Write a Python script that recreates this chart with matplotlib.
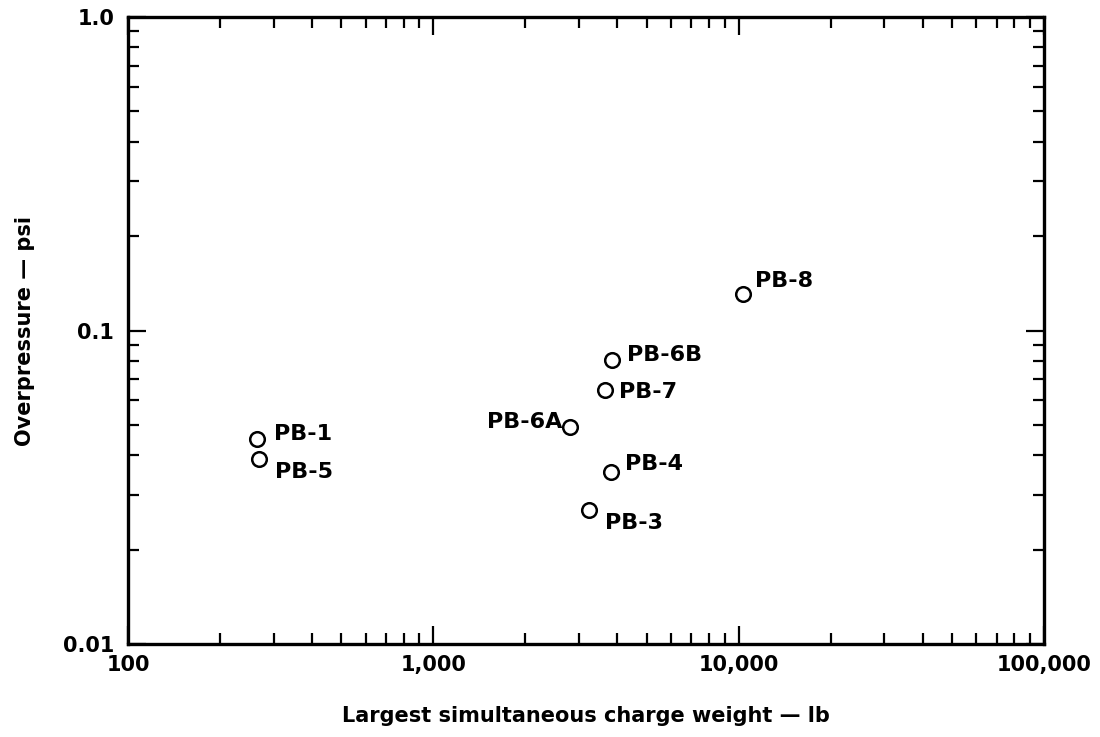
import numpy as np
import matplotlib
matplotlib.use("Agg")
from matplotlib import pyplot as plt
from matplotlib.ticker import FixedLocator, FixedFormatter, NullFormatter, LogLocator

# shot data: largest simultaneous charge (lb) vs measured overpressure (psi)
shots = ["PB-1", "PB-5", "PB-6A", "PB-6B", "PB-7", "PB-4", "PB-3", "PB-8"]
charge_lb = [265, 268, 2810, 3850, 3640, 3810, 3240, 10330]
overpressure_psi = [0.045, 0.0388, 0.0494, 0.0803, 0.0645, 0.0353, 0.0267, 0.131]
# label offsets (points) and alignment per shot
label_dx = [12, 12, -6, 11, 10, 10, 11, 9]
label_dy = [4, -9, 3, 4, -1, 6, -9, 9]
label_ha = ["left", "left", "right", "left", "left", "left", "left", "left"]

x_ticks = [100, 1000, 10000, 100000]
x_labels = ["100", "1,000", "10,000", "100,000"]
y_ticks = [0.01, 0.1, 1.0]
y_labels = ["0.01", "0.1", "1.0"]

plt.rcParams['font.family'] = ['DejaVu Sans']
plt.rcParams['font.weight'] = 'bold'

fig = plt.figure(figsize=(11, 7.37), dpi=100)
ax = fig.add_axes([0.1164, 0.126, 0.8327, 0.851])

ax.plot(charge_lb, overpressure_psi, linestyle='none', marker='o', markersize=10.5,
        markerfacecolor='white', markeredgecolor='black', markeredgewidth=1.8)

for name, x, y, dx, dy, ha in zip(shots, charge_lb, overpressure_psi, label_dx, label_dy, label_ha):
    ax.annotate(name, (x, y), xytext=(dx, dy), textcoords='offset points',
                ha=ha, va='center', fontsize=16, fontweight='bold')

ax.set_xscale('log')
ax.set_yscale('log')
ax.set_xlim(100, 100000)
ax.set_ylim(0.01, 1.0)

ax.xaxis.set_major_locator(FixedLocator(x_ticks))
ax.xaxis.set_major_formatter(FixedFormatter(x_labels))
ax.yaxis.set_major_locator(FixedLocator(y_ticks))
ax.yaxis.set_major_formatter(FixedFormatter(y_labels))
ax.xaxis.set_minor_locator(LogLocator(base=10, subs=np.arange(2, 10)))
ax.yaxis.set_minor_locator(LogLocator(base=10, subs=np.arange(2, 10)))
ax.xaxis.set_minor_formatter(NullFormatter())
ax.yaxis.set_minor_formatter(NullFormatter())

ax.tick_params(which='both', direction='in', top=True, right=True, width=1.6, color='black')
ax.tick_params(which='major', length=13, labelsize=15)
ax.tick_params(which='minor', length=8)
ax.tick_params(axis='x', which='major', pad=8)
ax.tick_params(axis='y', which='major', pad=10)

for sp in ax.spines.values():
    sp.set_linewidth(2.4)

ax.set_xlabel("Largest simultaneous charge weight — lb", fontsize=15, fontweight='bold', labelpad=22)
ax.set_ylabel("Overpressure — psi", fontsize=15, fontweight='bold', labelpad=20)

fig.savefig("out.png", dpi=100)
